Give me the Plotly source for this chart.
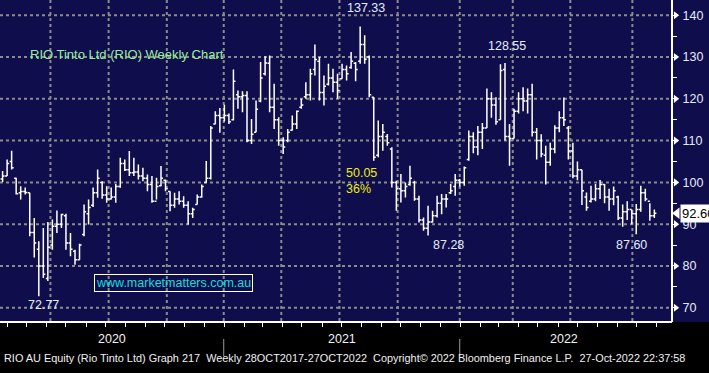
import pandas as pd
import numpy as np
import plotly.graph_objects as go

# ---------------- data (weekly bars, RIO AU) ----------------
opens = [100.8,101.5,105,101,97.5,97.8,97.5,88,84,80,77,85,89.5,90,92,85.5,83.5,81.5,87.5,92.5,
         94.5,97.5,100,97,96,96.5,99,104.5,103,102.3,102.5,101.5,101,99.5,95.5,99.2,100.5,97.8,94.5,96,
         95.5,94.5,92.5,94.7,96.5,100,101,114,116,115.5,
         116,115,121,120.5,120.8,110,112,119.5,126,128.5,118,115,110,110,112.5,114,118,120.5,121,127,
         129,121.5,123.5,125,124,124.8,127,127.5,128.5,129,133,130,120.4,106.5,111,111,108,100,98.5,98,
         99.5,100,96,91,89,90.5,92,95,96,97.5,
         99,100.5,100,105.5,111,108.5,112,113,120,118.5,115,127,111,110.5,117,120,119.5,121,112,110,
         106.5,104.8,108,113,115.5,113,107.5,101.5,103,96.5,95.5,96,98.5,99.5,96.5,96,96.5,91.5,93,93.5,
         92.5,93.5,97.5,95.5,92]
highs = [102.7,105.5,107.6,101.1,99.1,98.8,97.5,91.5,85.9,89.1,90.5,91.1,93.3,92.5,92.5,87.9,83.9,85.3,94.7,95.9,
         98.8,103.1,100.3,99.1,98.8,99.6,105.9,105.5,107.5,105.9,104.3,103.5,101.9,101.5,101.1,103.9,100.7,97.9,97.5,97.9,
         96.7,95.5,93.9,97.1,99.5,105.1,113.5,117,117.8,118.6,
         116.5,127,122,121.8,121.8,115.2,119.6,128.8,130.2,130.4,123.6,115.6,110.8,112.8,116,117.2,120,124,127.2,133,
         130,125.6,128.4,127.2,126,128.4,128,131.2,128.8,137.33,135.2,130.4,120.4,114.8,114,111.6,108.4,100.4,102,100,
         104,100.4,96.8,91.6,94.4,93.2,96.8,97.2,97.2,99.6,
         102,100.8,103.8,112.4,112,113.5,114.2,122.5,121.6,120.4,128.3,128.55,114,117.6,121.6,122.8,122.5,123.6,113,111.5,
         108.8,109.5,113.7,117,120.3,113.5,109.5,105,103,97.6,99.2,99.6,100.6,99.6,98.5,99,96.8,94.7,95.5,93.5,
         94.8,99.2,98.5,95,93.5]
lows = [100.1,101.5,103.1,97.1,95.9,97.1,87.1,82,72.77,77.1,76.4,83.9,87.9,89.1,83.9,82.3,80.3,81.5,87.1,89.9,
        94.1,96.3,96.1,95.1,95.9,95.1,98.7,102.7,101.5,101.5,100.7,100.3,97.9,95.1,95.9,99.1,97.9,93.1,93.9,94.7,
        93.9,89.9,91.5,94.7,96.3,99.9,100.7,113.9,111.9,114.6,
        114,114.8,117.6,116.8,109.6,109.2,112,119.2,125.6,116.8,112.8,108.8,106.8,109.6,112.4,112.8,117.6,120,119.6,125.6,
        119.6,118.4,123.2,121.6,120,124.8,124.4,127.2,124.2,128.4,128.4,120.4,105.2,106,107.6,108.8,98.8,93.2,95.2,96.4,
        99.2,95.6,90.4,88.4,87.28,90.4,91.6,92.4,94,97.2,
        96.8,99,99.2,105.2,107,106.5,108,113,115.5,113.8,115,110,104,110.5,116.5,117,116.5,111,105.5,106,
        99.5,104,107,112,113.5,105.5,101,100.5,94.6,93.2,95.2,95.5,96,95,93.2,94.5,91,89.4,91,90,
        87.6,93,95.5,90.8,91.5]
closes = [101.5,104.5,103.5,97.3,97.8,97.6,88,85.5,80,78,84.5,89.5,90,92.3,85.5,84,81.5,85,93,94,
          97.5,101,97,96,96.5,99,104.5,103,102.3,102.5,101.5,101,99.5,95.5,99,101,98.5,94.5,96,95.5,
          94.5,92.5,93.5,96.5,99,101,113,116,115.5,116,
          114.5,124.2,120.5,120.8,110,111.5,117.5,125,128.6,118,115,110,108.5,112,114,117,118.5,121,126,129.4,
          121.5,123,125,124,122,127,126,129,127,133,129.5,121,106,111,112,109.5,100,98.5,98,99,
          101,96,91,89,90.5,92,95,96,96,98,
          100.5,100,103.5,111,108.5,112,113,120,118.5,114.5,126.8,111,110.5,117,120,119.5,121,112,110,106.8,
          104.8,108,113,115.5,115,107.5,101.5,103,98,94,96,98.5,99.5,96.5,96,98,91.5,93,93.5,92.5,
          93.5,97.5,96,92,92.6]
first_week = "2020-01-24"
dates = pd.date_range(first_week, periods=len(closes), freq="7D")

y_ticks = [70, 80, 90, 100, 110, 120, 130, 140]
y_small_ticks = [70, 75, 80, 85, 90, 95, 100, 105, 110, 115, 120, 125, 130, 135, 140]
grid_dates = ["2020-04-07", "2020-07-06", "2020-10-04", "2020-12-31", "2021-03-30", "2021-06-28",
              "2021-09-26", "2021-12-31", "2022-03-23", "2022-06-20", "2022-09-24"]
month_ticks = pd.date_range("2020-02-01", "2022-11-01", freq="MS")
year_labels = ["2020", "2021", "2022"]
year_centers = ["2020-07-11", "2021-07-02", "2022-06-10"]
year_breaks = ["2020-12-31", "2021-12-31"]
title_text = "RIO Tinto Ltd (RIO) Weekly Chart"
footer_text = ("RIO AU Equity (Rio Tinto Ltd) Graph 217  Weekly 28OCT2017-27OCT2022  "
               "Copyright\u00a9 2022 Bloomberg Finance L.P.  27-Oct-2022 22:37:58")
site_text = "www.marketmatters.com.au"

NAVY = "#0f0d4b"
GRID = "#8c8c8c"
W, H = 709, 373
PH = 322                      # plot height (px); plot spans the full width
X0, XEND = "2020-01-20", "2023-01-20 12:00"   # full-width date range
AX_DATE = "2022-11-24 07:00"  # where the price axis sits (x = 672 px)
MARK_DATE = "2022-11-30"      # tick triangles just right of the axis
Y0, Y1 = 66.58, 143.66
AXPOS = 672 / W

highs_a = np.array(highs); lows_a = np.array(lows)
i_pk = int(np.argmax(highs_a))
i_tr = i_pk + int(np.argmin(lows_a[i_pk:i_pk + 25]))
i_low = int(np.argmin(lows_a))
i_2022 = 100 + int(np.argmax(highs_a[100:]))
i_last_low = 120 + int(np.argmin(lows_a[120:]))
swing = highs_a[i_pk] - lows_a[i_tr]

fig = go.Figure()
# vertical dotted grid, drawn as full-height bars under the price bars
n = len(grid_dates)
fig.add_trace(go.Ohlc(
    x=grid_dates, open=[Y0] * n, high=[Y1] * n, low=[Y0] * n, close=[Y0] * n,
    increasing=dict(line=dict(color=GRID, width=2, dash="dot")),
    decreasing=dict(line=dict(color=GRID, width=2, dash="dot")),
    tickwidth=0, hoverinfo="skip", showlegend=False))

fig.add_trace(go.Ohlc(
    x=dates, open=opens, high=highs, low=lows, close=closes,
    increasing=dict(line=dict(color="white", width=1.5)),
    decreasing=dict(line=dict(color="white", width=1.5)),
    tickwidth=0.45, hoverinfo="skip", showlegend=False))

# price-axis tick triangles
fig.add_trace(go.Scatter(x=[MARK_DATE] * len(y_ticks), y=y_ticks, mode="markers",
                         marker=dict(symbol="triangle-right", size=7, color="white", line=dict(width=0)),
                         hoverinfo="skip", showlegend=False))
# last-price pointer
fig.add_trace(go.Scatter(x=["2022-12-02"], y=[closes[-1]], mode="markers",
                         marker=dict(symbol="triangle-left", size=10, color="white", line=dict(width=0)),
                         hoverinfo="skip", showlegend=False))

lab_font = dict(family="Liberation Sans, Arial", size=12.5, color="#e4ecff")
ann = []
ann.append(dict(x=dates[i_pk], y=highs[i_pk], text=f"{highs[i_pk]:.2f}", showarrow=False,
                xshift=6, yshift=18, font=lab_font))
ann.append(dict(x=dates[i_2022], y=highs[i_2022], text=f"{highs[i_2022]:.2f}", showarrow=False,
                xshift=2, yshift=17, font=lab_font))
ann.append(dict(x=dates[i_low], y=lows[i_low], text=f"{lows[i_low]:.2f}", showarrow=False,
                xshift=5, yshift=-9, font=lab_font))
ann.append(dict(x=dates[i_tr], y=lows[i_tr], text=f"{lows[i_tr]:.2f}", showarrow=False,
                xshift=20, yshift=-9, font=lab_font))
ann.append(dict(x=dates[i_last_low], y=lows[i_last_low], text=f"{lows[i_last_low]:.2f}", showarrow=False,
                xshift=-5, yshift=-11, font=lab_font))
yel = dict(family="Liberation Sans, Arial", size=12.5, color="#eded10")
ann.append(dict(xref="paper", yref="paper", x=344 / W, y=1 - 173 / PH, xanchor="left",
                text=f"{swing:.2f}", showarrow=False, font=yel))
ann.append(dict(xref="paper", yref="paper", x=344 / W, y=1 - 189 / PH, xanchor="left",
                text=f"{swing / highs_a[i_pk] * 100:.0f}%", showarrow=False, font=yel))
ann.append(dict(xref="paper", yref="paper", x=28 / W, y=1 - 45 / PH, xanchor="left",
                text=title_text, showarrow=False,
                font=dict(family="Liberation Sans, Arial", size=13, color="#98ee98")))
ann.append(dict(xref="paper", yref="paper", x=94 / W, y=1 - 292 / PH, xanchor="left",
                text=site_text, showarrow=False, bordercolor="white", borderwidth=1, borderpad=1,
                font=dict(family="Liberation Sans, Arial", size=12.5, color="#14dede")))
for t, c in zip(year_labels, year_centers):
    ann.append(dict(x=c, xref="x", yref="paper", y=-(348 - PH) / PH, text=t, showarrow=False,
                    font=dict(family="Liberation Sans, Arial", size=12.5, color="#f2f2f2")))
ann.append(dict(xref="paper", yref="paper", x=2 / W, y=-(366 - PH) / PH, xanchor="left",
                text=footer_text, showarrow=False,
                font=dict(family="Liberation Sans, Arial", size=10.9, color="#f0f0f0")))
# last price box
ann.append(dict(xref="paper", yref="y", x=680 / W, y=closes[-1], xanchor="left",
                text=f"{closes[-1]:.2f}", showarrow=False, bgcolor="white", borderpad=1,
                font=dict(family="Liberation Sans, Arial", size=13, color="black")))

shapes = []
# horizontal dotted grid (data coordinates, below the bars)
for v in y_ticks:
    shapes.append(dict(type="line", xref="x", yref="y", x0=X0, x1=AX_DATE, y0=v, y1=v, layer="below",
                       line=dict(color=GRID, width=2, dash="dot")))
for d in year_breaks:
    shapes.append(dict(type="line", xref="x", yref="paper", x0=d, x1=d,
                       y0=-(339 - PH) / PH, y1=-(356 - PH) / PH, line=dict(color="#9a9a9a", width=1)))
# bottom axis line up to the price axis
shapes.append(dict(type="line", xref="paper", yref="paper", x0=0, x1=AXPOS, y0=0, y1=0,
                   line=dict(color="white", width=2)))

fig.update_layout(
    width=W, height=H, margin=dict(l=0, r=0, t=0, b=H - PH),
    paper_bgcolor="black", plot_bgcolor=NAVY,
    annotations=ann, shapes=shapes, showlegend=False,
    xaxis=dict(type="date", range=[X0, XEND], rangeslider=dict(visible=False),
               tickmode="array", tickvals=list(month_ticks), showticklabels=False, showgrid=False,
               ticks="outside", ticklen=4, tickcolor="white", tickwidth=1,
               showline=False, zeroline=False, fixedrange=True),
    yaxis=dict(side="right", anchor="free", position=AXPOS, range=[Y0, Y1],
               tickmode="array", tickvals=y_small_ticks,
               ticktext=[str(v) if v in y_ticks else "" for v in y_small_ticks],
               showgrid=False, ticks="outside", ticklen=4, tickwidth=1, tickcolor="white",
               ticklabelstandoff=3,
               tickfont=dict(family="Liberation Sans, Arial", size=12.5, color="#e4ecff"),
               showline=True, linecolor="white", linewidth=2, zeroline=False, fixedrange=True),
)
fig.write_html("out.html")
